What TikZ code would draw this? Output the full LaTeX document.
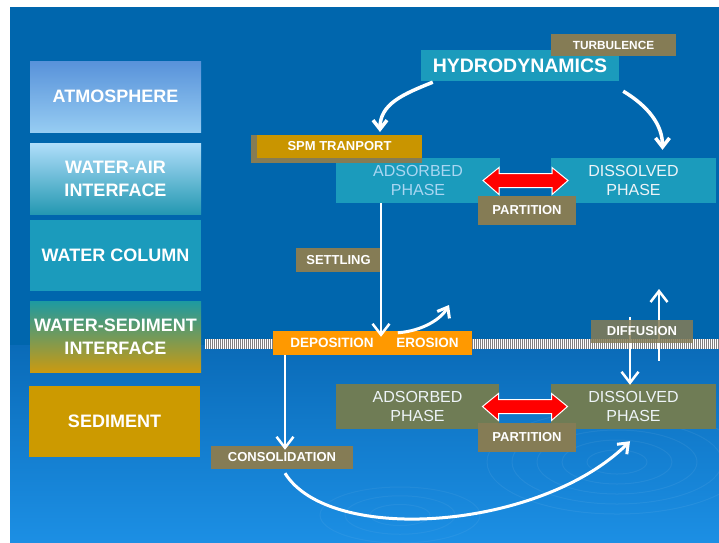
\documentclass[tikz,border=0pt]{standalone}
\usepackage{fontspec}
\setmainfont{Liberation Sans}
\usetikzlibrary{arrows.meta,calc}
\definecolor{bgdark}{HTML}{0066AD}
\definecolor{bglowa}{HTML}{0A6BB8}
\definecolor{bglowb}{HTML}{1C8FE4}
\definecolor{tealbox}{HTML}{1B9BBC}
\definecolor{olivetag}{HTML}{857C55}
\definecolor{olivephase}{HTML}{6F7C55}
\definecolor{goldtag}{HTML}{C99500}
\definecolor{sedgold}{HTML}{CC9A00}
\definecolor{deporange}{HTML}{FF9900}
\definecolor{paleblue}{HTML}{A9D6F2}
\definecolor{palewhite}{HTML}{EEF4F8}
\definecolor{redarrow}{HTML}{FF0000}
\begin{document}
\begin{tikzpicture}[x=1pt,y=-1pt,
  box/.style={inner sep=0pt, align=center, text=white},
  layer/.style={box, minimum width=171pt, minimum height=71pt, font=\bfseries\fontsize{18}{23}\selectfont},
  tag/.style={box, fill=olivetag, minimum height=23pt, font=\bfseries\fontsize{13}{15}\selectfont},
  phase/.style={box, minimum width=164pt, minimum height=45pt, font=\fontsize{16}{19}\selectfont},
  warrow/.style={draw=white, line width=3.5pt, -{Straight Barb[length=9pt,width=14pt]}},
  wline/.style={draw=white, line width=2.5pt, -{Straight Barb[length=11pt,width=17pt]}},
  wcurve/.style={draw=white, line width=3pt, -{Straight Barb[length=9pt,width=14pt]}}
]
\useasboundingbox (0,0) rectangle (719,542);
\fill[white] (0,0) rectangle (719,542);
% background
\fill[bgdark] (10,7) rectangle (719,346);
\shade[top color=bglowa, bottom color=bglowb] (10,345) rectangle (719,542);
% faint ripples
\begin{scope}
\clip (10,350) rectangle (719,542);
\foreach \r in {30,55,80,105,130}
  \draw[white, opacity=0.06, line width=1pt] (617,462) ellipse ({\r} and {0.4*\r});
\foreach \r in {30,55,80}
  \draw[white, opacity=0.05, line width=1pt] (400,515) ellipse ({\r} and {0.35*\r});
\end{scope}
% sediment interface hatched line
\fill[white] (205,339) rectangle (719,349);
\foreach \x in {206,208,...,718}
  \draw[black!50, line width=0.8pt] (\x,339) -- (\x,349);

% left layers
\node[layer, shade, top color={rgb,255:red,88;green,146;blue,218}, middle color={rgb,255:red,182;green,224;blue,250}, bottom color={rgb,255:red,150;green,204;blue,242}] (atm) at (115.5,96.5) {ATMOSPHERE};
\node[layer, shade, top color={rgb,255:red,176;green,222;blue,250}, middle color={rgb,255:red,100;green,180;blue,218}, bottom color={rgb,255:red,36;green,152;blue,178}] (wair) at (115.5,178.5) {WATER-AIR\\INTERFACE};
\node[layer, fill=tealbox] (wcol) at (115.5,255.5) {WATER COLUMN};
\node[layer, shade, top color={rgb,255:red,30;green,154;blue,160}, middle color={rgb,255:red,120;green,154;blue,110}, bottom color={rgb,255:red,204;green,154;blue,16}] (wsed) at (115.5,337) {WATER-SEDIMENT\\INTERFACE};
\node[layer, fill=sedgold] (sed) at (114.5,421.5) {SEDIMENT};

% upper right
\node[box, fill=tealbox, minimum width=198pt, minimum height=31pt, font=\bfseries\fontsize{19.5}{22}\selectfont] (hydro) at (520,65.5) {HYDRODYNAMICS};
\node[tag, minimum width=125pt, minimum height=22pt, font=\bfseries\fontsize{11.8}{14}\selectfont] (turb) at (613.5,45) {TURBULENCE};
\node[phase, fill=tealbox, text=paleblue] (ads1) at (418,180.5) {ADSORBED\\PHASE};
\node[phase, fill=tealbox, text=palewhite, minimum width=165pt] (dis1) at (633.5,180.5) {DISSOLVED\\PHASE};
\fill[olivetag] (251,135) rectangle (422,163);
\node[box, fill=goldtag, minimum width=165pt, minimum height=23pt, font=\bfseries\fontsize{13}{15}\selectfont] (spm) at (339.5,146.5) {SPM TRANPORT};
\node[tag, minimum width=98pt, minimum height=29pt] (part1) at (527,210.5) {PARTITION};

% lower right
\node[phase, fill=olivephase, text=palewhite, minimum width=163pt] (ads2) at (417.5,406.5) {ADSORBED\\PHASE};
\node[phase, fill=olivephase, text=palewhite, minimum width=165pt] (dis2) at (633.5,406.5) {DISSOLVED\\PHASE};
\node[tag, minimum width=98pt, minimum height=29pt] (part2) at (527,437.5) {PARTITION};

% middle labels
\node[tag, minimum width=85pt, minimum height=24pt] (settle) at (338.5,260) {SETTLING};
\node[box, fill=deporange, minimum width=110pt, minimum height=24pt, font=\bfseries\fontsize{13.5}{15}\selectfont] (dep) at (328,343) {\hspace*{8pt}DEPOSITION};
\node[box, fill=deporange, minimum width=89pt, minimum height=24pt, font=\bfseries\fontsize{13.5}{15}\selectfont] (ero) at (427.5,343) {EROSION};
\node[tag, minimum width=142pt, minimum height=23pt] (consol) at (282,457.5) {CONSOLIDATION};

% coordinates for free arrow ends
\coordinate (spmtip) at (380,132);
\coordinate (erotip) at (449,305);
\coordinate (diffup) at (659,289);

% connectors
\draw[warrow] ($(hydro.south west)+(12,1)$) .. controls +(-30,12) and +(0,-28) .. (spmtip);
\draw[warrow] ($(hydro.south east)+(4,10)$) .. controls +(25,15) and +(0,-25) .. ($(dis1.north)+(29,-8)$);
\draw[wline] ($(ads1.south)+(-37,0)$) -- ($(dep.north)+(53,6)$);
\draw[wcurve] ($(ero.north west)+(15,2)$) .. controls +(25,-2) and +(-8,14) .. (erotip);
\draw[wline] ($(dep.south)+(-43,0)$) -- ($(consol.north)+(3,4)$);
\draw[wline] ($(dis2.north)+(-3.5,-67)$) -- ($(dis2.north)+(-3.5,1)$);
\draw[wline] ($(dis2.north)+(25.5,-23)$) -- (diffup);
\draw[wcurve] ($(consol.south)+(3,4)$) .. controls +(45,72) and +(-90,89) .. ($(dis2.south)+(-3.5,12)$);

\node[tag, fill opacity=0.85, text opacity=1, minimum width=102pt, minimum height=23pt] (diff) at (642,331.5) {DIFFUSION};

% partition double arrows
\coordinate (p1) at ($(ads1.east)!0.5!(dis1.west)$);
\filldraw[fill=redarrow, draw=white, line width=1pt] ($(p1)+(-42.5,0)$) -- ++(16,-13) -- ++(0,6) -- ++(53,0) -- ++(0,-6) -- ++(16,13) -- ++(-16,14) -- ++(0,-7) -- ++(-53,0) -- ++(0,7) -- cycle;
\coordinate (p2) at ($(ads2.east)!0.5!(dis2.west)$);
\filldraw[fill=redarrow, draw=white, line width=1pt] ($(p2)+(-42.5,0)$) -- ++(16,-13) -- ++(0,6) -- ++(53,0) -- ++(0,-6) -- ++(16,13) -- ++(-16,14) -- ++(0,-7) -- ++(-53,0) -- ++(0,7) -- cycle;
\end{tikzpicture}
\end{document}
